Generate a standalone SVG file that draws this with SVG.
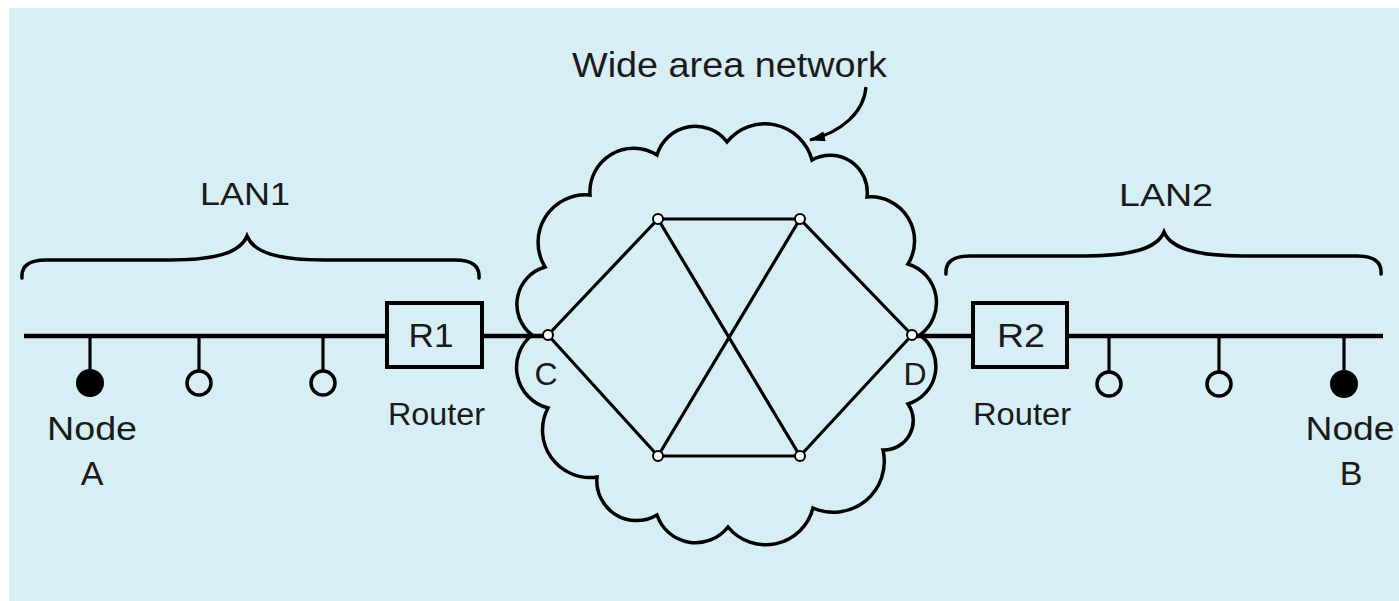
<svg xmlns="http://www.w3.org/2000/svg" width="1399" height="601" viewBox="0 0 1399 601">
<defs>
<style>
.t{font-family:"Liberation Sans",Arial,sans-serif;fill:#1a1a1a;}
.ln{stroke:#000;stroke-width:4.5;fill:none;}
.ms{stroke:#000;stroke-width:3.2;fill:none;}
.br{stroke:#000;stroke-width:3.5;fill:none;stroke-linecap:round;}
.mn{fill:#fff;stroke:#000;stroke-width:2;}
.oc{fill:none;stroke:#000;stroke-width:3.5;}
</style>
<marker id="ah" markerWidth="16" markerHeight="10" refX="15" refY="5" orient="auto" markerUnits="userSpaceOnUse"><path d="M0,0 L16,5 L0,10 z" fill="#000"/></marker>
</defs>
<rect x="0" y="0" width="1399" height="601" fill="#fff"/>
<rect x="9" y="8" width="1390" height="593" fill="#d8eef5"/>

<g id="wan">
<path class="br" stroke-linejoin="miter" d="M590,195 A43.7,43.7 0 0 1 657,155 A39.9,39.9 0 0 1 727,142 A48.7,48.7 0 0 1 812,160 A37.1,37.1 0 0 1 867,197 A44,44 0 0 1 908,264 A40.3,40.3 0 0 1 920,335 A39.2,39.2 0 0 1 908,404 A29.3,29.3 0 0 1 883,450 A50.9,50.9 0 0 1 813,508 A48.8,48.8 0 0 1 728,527 A40.9,40.9 0 0 1 657,515 A39.8,39.8 0 0 1 597,477 A47.4,47.4 0 0 1 548,408 A41.8,41.8 0 0 1 532,335 A38.8,38.8 0 0 1 545,267 A47.5,47.5 0 0 1 590,195 Z"/>
<text class="t" x="572" y="77" font-size="35" textLength="315" lengthAdjust="spacingAndGlyphs">Wide area network</text>
<path class="ms" d="M866,87 C864,112 842,132 810,140" marker-end="url(#ah)"/>
</g>

<g id="connectors">
<line class="ln" x1="24" y1="336" x2="387" y2="336"/>
<line class="ln" x1="482" y1="336" x2="543" y2="336"/>
<line class="ln" x1="917" y1="336" x2="973" y2="336"/>
<line class="ln" x1="1067" y1="336" x2="1383" y2="336"/>
<line class="ms" x1="90" y1="336" x2="90" y2="370"/>
<line class="ms" x1="199" y1="336" x2="199" y2="371"/>
<line class="ms" x1="323" y1="336" x2="323" y2="371"/>
<line class="ms" x1="1109" y1="336" x2="1109" y2="372"/>
<line class="ms" x1="1219" y1="336" x2="1219" y2="372"/>
<line class="ms" x1="1344" y1="336" x2="1344" y2="372"/>
<line class="ms" x1="548" y1="335" x2="658" y2="219"/>
<line class="ms" x1="548" y1="335" x2="658" y2="456"/>
<line class="ms" x1="658" y1="219" x2="800" y2="219"/>
<line class="ms" x1="658" y1="456" x2="800" y2="456"/>
<line class="ms" x1="658" y1="219" x2="800" y2="456"/>
<line class="ms" x1="800" y1="219" x2="658" y2="456"/>
<line class="ms" x1="800" y1="219" x2="912" y2="335"/>
<line class="ms" x1="800" y1="456" x2="912" y2="335"/>
</g>

<g id="lan1">
<path class="br" d="M22,278 C21,266 29,260 46,260 L170,260 C215,260 240,253 247,236 C254,253 279,260 324,260 L455,260 C472,260 480,266 479,278"/>
<text class="t" x="245" y="205" font-size="32" text-anchor="middle" textLength="90" lengthAdjust="spacingAndGlyphs">LAN1</text>
</g>
<g id="lan2">
<path class="br" d="M946,274 C945,262 953,256 970,256 L1085,256 C1130,256 1157,249 1164,232 C1171,249 1198,256 1243,256 L1357,256 C1374,256 1382,262 1381,274"/>
<text class="t" x="1166" y="206" font-size="32" text-anchor="middle" textLength="94" lengthAdjust="spacingAndGlyphs">LAN2</text>
</g>

<g id="nodeA">
<circle cx="90" cy="383" r="14" fill="#000"/>
<text class="t" x="92" y="440" font-size="34" text-anchor="middle" textLength="90" lengthAdjust="spacingAndGlyphs">Node</text>
<text class="t" x="92" y="485" font-size="34" text-anchor="middle">A</text>
</g>
<g id="n2"><circle class="oc" cx="199" cy="383" r="12"/></g>
<g id="n3"><circle class="oc" cx="323" cy="383" r="12"/></g>

<g id="r1">
<rect x="387" y="303" width="95" height="64" fill="none" stroke="#000" stroke-width="4"/>
<text class="t" x="431" y="347" font-size="33" text-anchor="middle" textLength="45" lengthAdjust="spacingAndGlyphs">R1</text>
<text class="t" x="388" y="425" font-size="31" textLength="97" lengthAdjust="spacingAndGlyphs">Router</text>
</g>

<g id="r2">
<rect x="973" y="303" width="94" height="64" fill="none" stroke="#000" stroke-width="4"/>
<text class="t" x="1021" y="347" font-size="33" text-anchor="middle" textLength="48" lengthAdjust="spacingAndGlyphs">R2</text>
<text class="t" x="973" y="425" font-size="31" textLength="98" lengthAdjust="spacingAndGlyphs">Router</text>
</g>

<g id="n4"><circle class="oc" cx="1109" cy="384" r="12"/></g>
<g id="n5"><circle class="oc" cx="1219" cy="384" r="12"/></g>
<g id="nodeB">
<circle cx="1344" cy="384" r="14" fill="#000"/>
<text class="t" x="1350" y="440" font-size="34" text-anchor="middle" textLength="89" lengthAdjust="spacingAndGlyphs">Node</text>
<text class="t" x="1351" y="485" font-size="34" text-anchor="middle">B</text>
</g>

<g id="mesh">
<g id="nodeC"><circle class="mn" cx="548" cy="335" r="5"/><text class="t" x="546" y="385" font-size="32" text-anchor="middle">C</text></g>
<g id="nodeD"><circle class="mn" cx="912" cy="335" r="5"/><text class="t" x="915" y="385" font-size="32" text-anchor="middle">D</text></g>
<g id="m1"><circle class="mn" cx="658" cy="219" r="5"/></g>
<g id="m2"><circle class="mn" cx="800" cy="219" r="5"/></g>
<g id="m3"><circle class="mn" cx="658" cy="456" r="5"/></g>
<g id="m4"><circle class="mn" cx="800" cy="456" r="5"/></g>
</g>
</svg>
